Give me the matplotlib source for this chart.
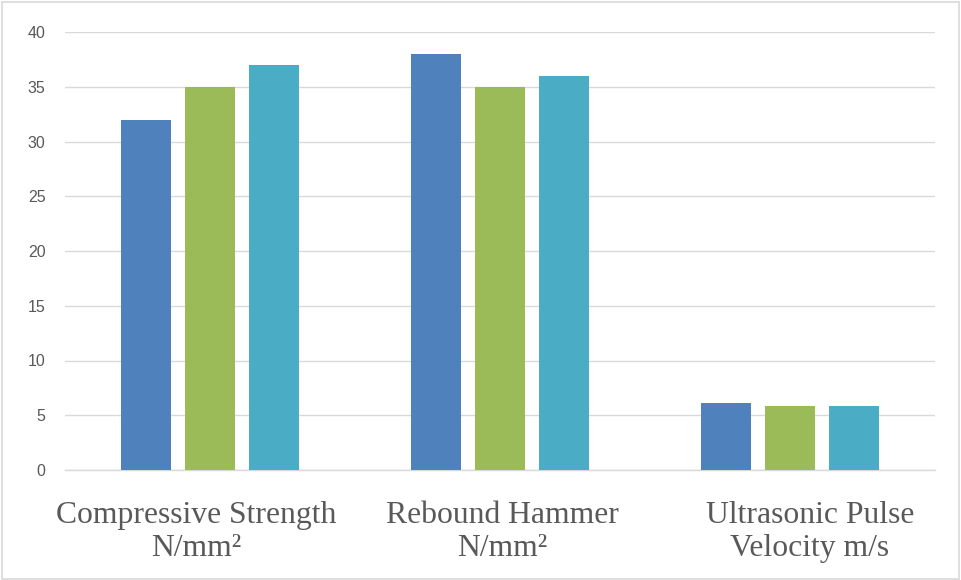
import matplotlib
matplotlib.use("Agg")
import matplotlib.pyplot as plt
import matplotlib.transforms as mtransforms
import numpy as np
from matplotlib.patches import Rectangle

categories = ["Compressive Strength\nN/mm²", "Rebound Hammer\nN/mm²", "Ultrasonic Pulse\nVelocity m/s"]
series1 = [32, 38, 6.1]
series2 = [35, 35, 5.8]
series3 = [37, 36, 5.8]
yticks = [0, 5, 10, 15, 20, 25, 30, 35, 40]
colors = ["#4f81bd", "#9bbb59", "#4bacc6"]

fig = plt.figure(figsize=(9.61, 5.80), dpi=100)
ax = fig.add_axes([65/961, 110/580, 870/961, 438/580])

x = np.arange(len(categories))
w = 0.172
step = 0.221
for i, (vals, c) in enumerate(zip([series1, series2, series3], colors)):
    ax.bar(x + (i - 1) * step, vals, width=w, color=c, zorder=3)

ax.set_xlim(-0.5, 2.5)
ax.set_ylim(0, 40)
ax.set_yticks(yticks)
ax.set_yticklabels([str(t) for t in yticks], fontsize=11.5, color="#595959", family="Liberation Sans")
ax.set_xticks(x)
ax.set_xticklabels(categories, fontsize=22.8, color="#595959", family="Liberation Serif", linespacing=1.18)
ax.tick_params(axis="both", length=0)
ax.tick_params(axis="y", pad=14)
ax.tick_params(axis="x", pad=22)
ax.grid(axis="y", color="#d9d9d9", linewidth=1, zorder=0)
ax.axhline(0, color="#d9d9d9", linewidth=1, zorder=1, clip_on=False)
for s in ax.spines.values():
    s.set_visible(False)

# small horizontal nudges of category labels (as in the original layout)
label_shift_px = [-14, 2, 20]
for lab, dx in zip(ax.get_xticklabels(), label_shift_px):
    lab.set_transform(lab.get_transform() + mtransforms.ScaledTranslation(dx / 100, 0, fig.dpi_scale_trans))

fig.patches.append(Rectangle((0.002, 0.002), 0.996, 0.995, transform=fig.transFigure,
                             fill=False, edgecolor="#d9d9d9", linewidth=1.2))
fig.savefig("out.png", dpi=100)
